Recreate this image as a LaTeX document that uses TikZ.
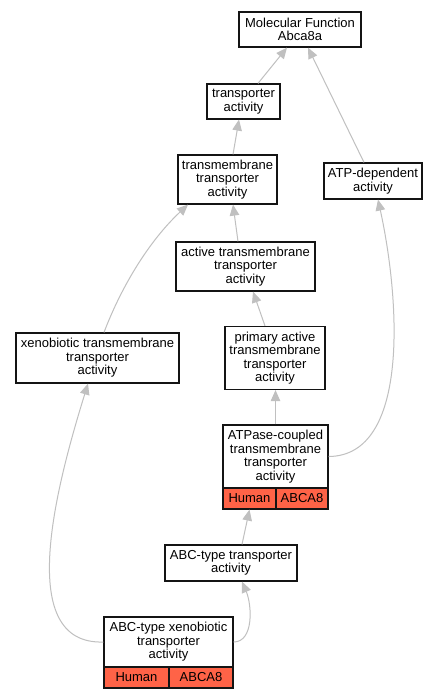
\documentclass[tikz,border=0pt]{standalone}
\usepackage{fontspec}
\setmainfont{Liberation Sans}
\usetikzlibrary{arrows.meta,calc}
\definecolor{edgegray}{RGB}{192,192,192}
\definecolor{tomatofill}{RGB}{255,99,71}
\definecolor{boxline}{RGB}{20,20,20}
\begin{document}
\begin{tikzpicture}[x=1bp,y=-1bp,
  box/.style={draw=boxline, line width=1.2bp, fill=white, inner sep=0pt, align=center,
    font=\fontsize{13bp}{13.5bp}\selectfont},
  cell/.style={box, fill=tomatofill},
  edge/.style={draw=edgegray, line width=1bp, -{Triangle[length=11bp,width=9.5bp]}}
]
\fill[white] (0,0) rectangle (439,699);
\useasboundingbox (0,0) rectangle (439,699);

\node[box, minimum width=122bp, minimum height=35bp] (MF) at (300,29.5) {Molecular Function\\Abca8a};
\node[box, minimum width=73bp, minimum height=35bp] (TA) at (243.5,101.5) {transporter\\activity};
\node[box, minimum width=99bp, minimum height=49bp] (TMTA) at (227.5,179.5) {transmembrane\\transporter\\activity};
\node[box, minimum width=98bp, minimum height=36bp] (ATPD) at (373,181) {ATP-dependent\\activity};
\node[box, minimum width=139bp, minimum height=49bp] (ATMTA) at (245.5,266.5) {active transmembrane\\transporter\\activity};
\node[box, minimum width=163bp, minimum height=50bp] (XTA) at (97.5,358) {xenobiotic transmembrane\\transporter\\activity};
\node[box, minimum width=100bp, minimum height=63bp] (PATA) at (275,358) {primary active\\transmembrane\\transporter\\activity};

\node[box, minimum width=105bp, minimum height=63bp] (ATP) at (275.5,456.5) {ATPase-coupled\\transmembrane\\transporter\\activity};
\node[cell, minimum width=53bp, minimum height=21bp] (ATPh) at (249.5,498.5) {Human};
\node[cell, minimum width=52bp, minimum height=21bp] (ATPg) at (302,498.5) {ABCA8};

\node[box, minimum width=132bp, minimum height=36bp] (ABCT) at (231,563) {ABC-type transporter\\activity};

\node[box, minimum width=129bp, minimum height=50bp] (ABCX) at (168.5,642) {ABC-type xenobiotic\\transporter\\activity};
\node[cell, minimum width=65bp, minimum height=21bp] (ABCXh) at (136.5,677.5) {Human};
\node[cell, minimum width=64bp, minimum height=21bp] (ABCXg) at (201,677.5) {ABCA8};

\draw[edge] ([xshift=14.5bp]TA.north) -- ([xshift=-13bp]MF.south);
\draw[edge] ([xshift=-9bp]ATPD.north) -- ([xshift=8bp]MF.south);
\draw[edge] ([xshift=5.5bp]TMTA.north) -- ([xshift=-4.5bp]TA.south);
\draw[edge] ([xshift=-7.5bp]ATMTA.north) -- ([xshift=5.5bp]TMTA.south);
\draw[edge] ([xshift=6.5bp]XTA.north) .. controls (122,285) and (150,240) .. ([xshift=-39.5bp]TMTA.south);
\draw[edge] ([xshift=-10bp]PATA.north) -- ([xshift=7.5bp]ATMTA.south);
\draw[edge] (ATP.north) -- (ATP.north |- PATA.south);
\draw[edge] (ATP.east) .. controls (410,456) and (400,300) .. ([xshift=5bp]ATPD.south);
\draw[edge] ([xshift=11bp]ABCT.north) -- (ATPh.south);
\draw[edge] (ABCX.east) .. controls (254,642) and (252,605) .. ([xshift=11bp]ABCT.south);
\draw[edge] (ABCX.west) .. controls (15,645) and (55,490) .. ([xshift=-9.5bp]XTA.south);
\end{tikzpicture}
\end{document}
